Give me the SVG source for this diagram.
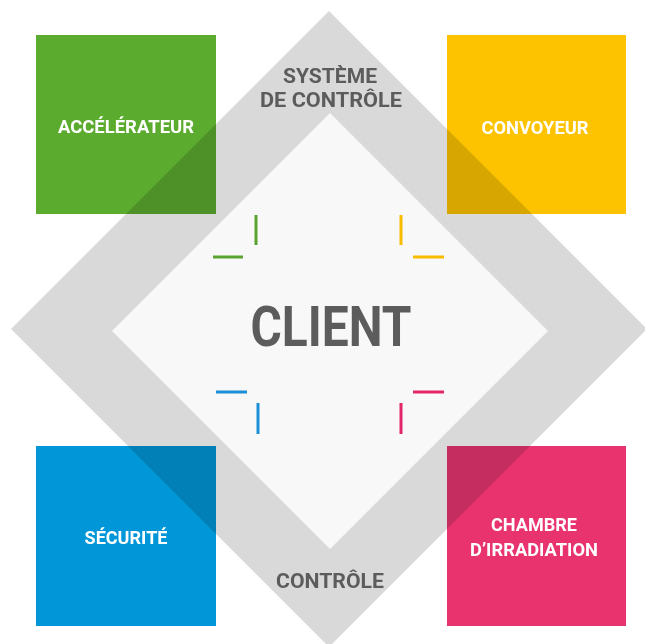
<svg xmlns="http://www.w3.org/2000/svg" width="645" height="644" viewBox="0 0 645 644">
<style>
.sq{mix-blend-mode:multiply}
.lbl{font-family:Roboto,"Liberation Sans",sans-serif;font-weight:bold;fill:#ffffff;text-anchor:middle}
.gt{font-family:Roboto,"Liberation Sans",sans-serif;font-weight:bold;fill:#5c5c5c;text-anchor:middle}
.mk{stroke-width:3;fill:none}
</style>
<rect width="645" height="644" fill="#ffffff"/>
<g id="ring">
<polygon points="329,11 647,329 329,647 11,329" fill="#d9d9d9"/>
<polygon id="client-bg" points="330,113 548,331 330,549 112,331" fill="#f8f8f8"/>
</g>
<g id="accelerateur">
<rect class="sq" x="36" y="35" width="180" height="179" fill="#5bab2f"/>
<text class="lbl" x="126" y="133" font-size="18" textLength="136" lengthAdjust="spacingAndGlyphs">ACCÉLÉRATEUR</text>
</g>
<g id="convoyeur">
<rect class="sq" x="447" y="35" width="179" height="179" fill="#fdc300"/>
<text class="lbl" x="535" y="134" font-size="18" textLength="107" lengthAdjust="spacingAndGlyphs">CONVOYEUR</text>
</g>
<g id="securite">
<rect class="sq" x="36" y="446" width="180" height="180" fill="#0096d7"/>
<text class="lbl" x="126" y="544" font-size="18" textLength="83" lengthAdjust="spacingAndGlyphs">SÉCURITÉ</text>
</g>
<g id="chambre">
<rect class="sq" x="447" y="446" width="179" height="180" fill="#e8336f"/>
<text class="lbl" x="534" y="531" font-size="18" textLength="86" lengthAdjust="spacingAndGlyphs">CHAMBRE</text>
<text class="lbl" x="534" y="556" font-size="18" textLength="128" lengthAdjust="spacingAndGlyphs">D’IRRADIATION</text>
</g>
<g id="systeme">
<text class="gt" x="330" y="83" font-size="20" textLength="94" lengthAdjust="spacingAndGlyphs">SYSTÈME</text>
<text class="gt" x="331" y="107" font-size="20" textLength="142" lengthAdjust="spacingAndGlyphs">DE CONTRÔLE</text>
</g>
<g id="controle">
<text class="gt" x="330" y="588" font-size="21" textLength="108" lengthAdjust="spacingAndGlyphs">CONTRÔLE</text>
</g>
<g id="client">
<text class="gt" x="331" y="346" font-size="55" textLength="161" lengthAdjust="spacingAndGlyphs">CLIENT</text>
</g>
<g id="connectors">
<path class="mk" stroke="#5aa32e" d="M256,215V245M213,257H243"/>
<path class="mk" stroke="#f8bb00" d="M401,215V245M413,257H444"/>
<path class="mk" stroke="#1b90d8" d="M216,392H247M258,403V434"/>
<path class="mk" stroke="#e3266a" d="M413,392H444M401,403V434"/>
</g>
</svg>
